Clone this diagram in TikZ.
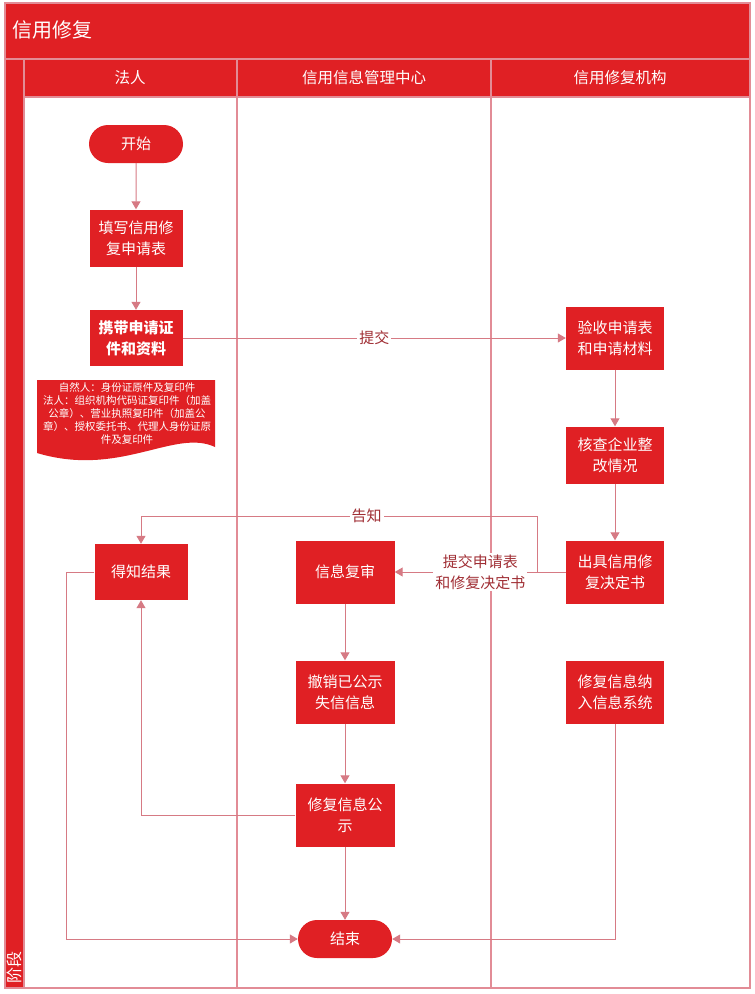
\documentclass[tikz,border=0pt]{standalone}
\usepackage{fontspec}
\setmainfont{Noto Sans CJK SC}
\usetikzlibrary{arrows.meta,shapes.misc}
\definecolor{cred}{RGB}{224,32,36}
\definecolor{cline}{RGB}{214,122,132}
\definecolor{clab}{RGB}{160,46,52}
\definecolor{cframe}{RGB}{226,140,150}
\tikzset{
  box/.style={fill=cred, draw=none, text=white, align=center, inner sep=0pt,
    font=\fontsize{15}{21}\selectfont},
  pill/.style={rounded rectangle, fill=cred, draw=none, text=white, inner sep=0pt,
    minimum width=94pt, minimum height=38pt, font=\fontsize{15}{21}\selectfont},
  arr/.style={draw=cline, line width=1pt, -{Triangle[width=9pt,length=8pt]}},
  lab/.style={fill=white, text=clab, align=center, inner sep=2pt,
    font=\fontsize{15}{21}\selectfont},
  hdr/.style={text=white, font=\fontsize{15.5}{18}\selectfont},
  lane/.style={draw=cframe, line width=1.2pt}
}
\begin{document}
\begin{tikzpicture}[x=1pt,y=-1pt]
\useasboundingbox (0,0) rectangle (755,994);
% frame
\fill[cred] (5,3) rectangle (750,59);
\fill[cred] (5,59) rectangle (24,988);
\fill[cred] (24,60) rectangle (750,97);
\draw[lane] (5,3) rectangle (750,988);
\draw[lane] (5,59) -- (750,59);
\draw[lane] (24,97) -- (750,97);
\draw[lane] (24,59) -- (24,988);
\draw[lane] (237,59) -- (237,988);
\draw[lane] (491,59) -- (491,988);
\node[text=white, anchor=west, font=\fontsize{20}{24}\selectfont] (title) at (9,30) {信用修复};
\node[hdr] (h1) at (130,78) {法人};
\node[hdr] (h2) at (364,78) {信用信息管理中心};
\node[hdr] (h3) at (620,78) {信用修复机构};
\node[text=white, rotate=90, font=\fontsize{16}{18}\selectfont] (stage) at (14,967) {阶段};
% nodes
\node[pill] (start) at (136,144) {开始};
\node[box, minimum width=93pt, minimum height=57pt] (fill) at (136,238) {填写信用修\\复申请表};
\node[box, minimum width=93pt, minimum height=56pt, font=\fontsize{15}{21}\selectfont\bfseries] (carry) at (136,338) {携带申请证\\件和资料};
\fill[cred] (37,380) -- (215,380) -- (215,447) .. controls (175,428) and (120,478) .. (37,453) -- cycle;
\node[text=white, align=center, inner sep=0pt, font=\fontsize{10.5}{13}\selectfont] (doc) at (127,413)
  {自然人：身份证原件及复印件\\法人：组织机构代码证复印件（加盖\\公章）、营业执照复印件（加盖公\\章）、授权委托书、代理人身份证原\\件及复印件};
\node[box, minimum width=98pt, minimum height=63pt] (check1) at (615,338) {验收申请表\\和申请材料};
\node[box, minimum width=98pt, minimum height=57pt] (check2) at (615,455) {核查企业整\\改情况};
\node[box, minimum width=98pt, minimum height=63pt] (issue) at (615,572) {出具信用修\\复决定书};
\node[box, minimum width=98pt, minimum height=63pt] (enter) at (615,692) {修复信息纳\\入信息系统};
\node[box, minimum width=93pt, minimum height=56pt] (know) at (141,572) {得知结果};
\node[box, minimum width=99pt, minimum height=63pt] (review) at (345,572) {信息复审};
\node[box, minimum width=99pt, minimum height=63pt] (revoke) at (345,692) {撤销已公示\\失信信息};
\node[box, minimum width=99pt, minimum height=63pt] (publish) at (345,815) {修复信息公\\示};
\node[pill] (end) at (345,939) {结束};
\coordinate (gz) at (537,516);
% connectors
\draw[arr] (start) -- (fill);
\draw[arr] (fill) -- (carry);
\draw[arr] (carry) -- node[lab]{提交} (check1);
\draw[arr] (check1) -- (check2);
\draw[arr] (check2) -- (issue);
\draw[arr] (issue.west) -| (gz) -- node[lab, pos=0.43]{告知} (gz -| know.north) -- (know.north);
\draw[arr] (issue) -- node[lab]{提交申请表\\和修复决定书} (review);
\draw[arr] (review) -- (revoke);
\draw[arr] (revoke) -- (publish);
\draw[arr] (publish) -- (end);
\draw[arr] (publish.west) -| (know.south);
\draw[arr] (know.west) -- ++(-28,0) |- (end.west);
\draw[arr] (enter.south) |- (end.east);
\end{tikzpicture}
\end{document}
